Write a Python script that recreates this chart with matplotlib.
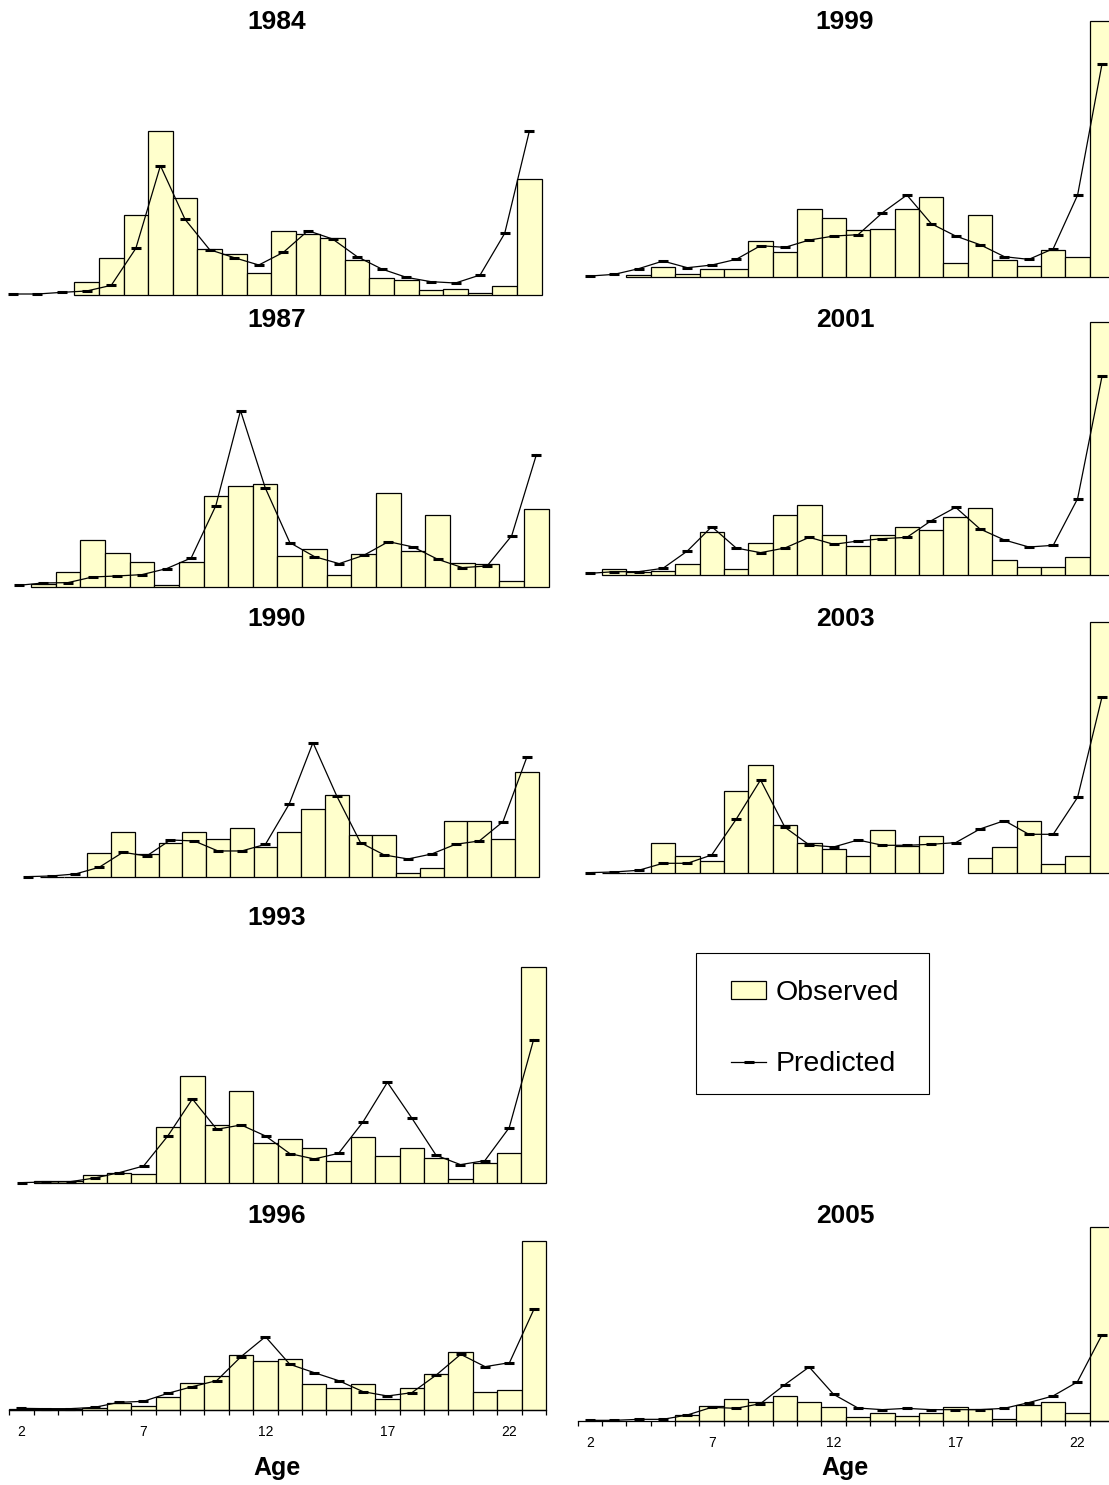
import numpy as np
import matplotlib.pyplot as plt
from matplotlib.patches import Rectangle

plt.rcParams['font.family'] = ['Liberation Sans', 'DejaVu Sans']

# ages 2..23 (23 = plus group)
ages = np.arange(2, 24)
tick_ages = [2, 7, 12, 17, 22]

# observed / predicted proportions at age
obs_1984 = [0, 0, 0, 3.8, 11.0, 24.1, 49.3, 29.0, 13.9, 12.2, 6.7, 19.2, 18.3, 17.0, 10.5, 5.2, 4.5, 1.4, 1.9, 0.5, 2.7, 34.8]
pred_1984 = [0.3, 0.3, 0.8, 1.2, 2.9, 14.0, 38.8, 22.7, 13.6, 11.2, 9.0, 12.8, 19.3, 16.8, 11.5, 7.8, 5.3, 4.0, 3.6, 6.0, 18.5, 49.1]

obs_1987 = [0, 1.0, 4.5, 14.1, 10.2, 7.7, 0.7, 7.7, 27.5, 30.5, 31.0, 9.5, 11.6, 3.6, 9.9, 28.4, 11.0, 21.8, 7.4, 6.9, 2.0, 23.4]
pred_1987 = [0.6, 1.3, 1.4, 3.1, 3.4, 3.8, 5.6, 8.8, 24.5, 53.0, 29.9, 13.4, 9.2, 7.1, 9.6, 13.7, 12.1, 8.4, 5.9, 6.4, 15.5, 39.8]

obs_1990 = [0, 0.2, 0.2, 7.2, 13.5, 6.9, 10.2, 13.5, 11.4, 14.7, 9.0, 13.5, 20.5, 24.7, 12.6, 12.6, 1.4, 2.8, 16.8, 16.8, 11.4, 31.6]
pred_1990 = [0.2, 0.4, 1.0, 3.0, 7.5, 6.4, 11.2, 10.9, 7.9, 7.9, 9.9, 22.0, 40.4, 24.4, 10.4, 6.7, 5.5, 7.0, 9.9, 10.9, 16.7, 36.0]

obs_1993 = [0, 0.7, 0.7, 2.5, 3.0, 2.9, 16.9, 32.3, 17.4, 27.7, 12.0, 13.2, 10.7, 6.6, 14.0, 8.2, 10.7, 7.5, 1.2, 6.2, 9.0, 64.8]
pred_1993 = [0.2, 0.4, 0.5, 1.6, 3.2, 5.2, 14.3, 25.3, 16.2, 17.5, 14.2, 8.9, 7.3, 9.0, 18.4, 30.3, 19.6, 8.4, 5.6, 6.8, 16.7, 43.1]

obs_1996 = [0.3, 0.2, 0.2, 0.6, 2.0, 1.2, 4.0, 8.2, 10.2, 16.5, 14.8, 15.2, 7.8, 6.5, 7.8, 3.2, 6.5, 10.7, 17.3, 5.3, 6.1, 50.6]
pred_1996 = [0.5, 0.4, 0.4, 0.8, 2.3, 2.6, 5.0, 7.0, 8.8, 16.0, 22.0, 13.7, 11.2, 8.8, 5.5, 4.2, 5.2, 10.5, 16.7, 13.0, 14.2, 30.2]

obs_1999 = [0, 0, 0.4, 2.8, 0.9, 2.4, 2.4, 10.8, 7.5, 20.2, 17.7, 14.0, 14.4, 20.2, 23.9, 4.1, 18.5, 4.9, 3.3, 7.9, 5.8, 76.8]
pred_1999 = [0.2, 0.7, 2.4, 4.7, 2.7, 3.5, 5.2, 9.3, 8.8, 11.0, 12.2, 12.6, 19.2, 24.5, 15.9, 12.2, 9.6, 6.0, 5.2, 8.4, 24.5, 63.8]

obs_2001 = [0, 1.7, 0.8, 1.2, 3.3, 12.8, 1.7, 9.5, 18.1, 21.0, 12.0, 8.7, 12.0, 14.4, 13.6, 17.3, 20.2, 4.6, 2.5, 2.5, 5.4, 75.9]
pred_2001 = [0.5, 1.0, 1.0, 2.0, 7.2, 14.5, 8.1, 6.7, 8.1, 11.3, 9.2, 10.2, 10.9, 11.3, 16.3, 20.3, 13.8, 10.5, 8.4, 8.9, 22.9, 59.6]

# age 17 missing in 2003
obs_2003 = [0, 0.2, 0.2, 9.0, 5.3, 3.7, 24.7, 32.6, 14.4, 9.0, 7.4, 5.3, 13.1, 8.3, 11.1, np.nan, 4.5, 7.8, 15.6, 2.8, 5.3, 75.4]
pred_2003 = [0.2, 0.4, 0.9, 3.0, 3.0, 5.5, 16.2, 28.0, 13.8, 8.5, 7.9, 10.0, 8.4, 8.4, 8.7, 9.2, 13.3, 15.8, 11.7, 11.7, 22.8, 52.9]

obs_2005 = [0, 0, 0, 0, 1.7, 4.5, 6.5, 5.8, 7.4, 5.8, 4.1, 1.1, 2.4, 1.6, 2.4, 4.1, 3.6, 0.7, 4.9, 5.8, 2.4, 58.1]
pred_2005 = [0.2, 0.2, 0.5, 0.5, 1.8, 4.1, 3.8, 5.2, 10.9, 16.2, 8.0, 3.9, 3.4, 3.8, 3.4, 3.4, 3.4, 3.8, 5.5, 7.5, 11.7, 25.7]

observed = {'1984': obs_1984, '1987': obs_1987, '1990': obs_1990, '1993': obs_1993,
            '1996': obs_1996, '1999': obs_1999, '2001': obs_2001, '2003': obs_2003,
            '2005': obs_2005}
predicted = {'1984': pred_1984, '1987': pred_1987, '1990': pred_1990, '1993': pred_1993,
             '1996': pred_1996, '1999': pred_1999, '2001': pred_2001, '2003': pred_2003,
             '2005': pred_2005}

W, H = 1109, 1485
fig = plt.figure(figsize=(W / 100, H / 100), dpi=100)

# pixel layout: x of age 2 centre, x of age 23 centre, baseline y, title x, title y
layout = {
    '1984': (12.9, 529.3, 295.0, 277, 22),
    '1987': (18.6, 536.4, 587.3, 277, 320),
    '1990': (27.9, 526.8, 877.3, 277, 619),
    '1993': (21.8, 533.6, 1183.3, 277, 918),
    '1996': (21.4, 533.9, 1410.0, 277, 1216),
    '1999': (589.8, 1102.0, 276.7, 845, 22),
    '2001': (589.8, 1102.0, 575.0, 845, 320),
    '2003': (589.8, 1102.0, 873.3, 845, 619),
    '2005': (589.8, 1101.7, 1421.0, 845, 1216),
}
px_per_unit = 10 / 3
axes_h = 272

for yr, (x2, x23, base, tx, ty) in layout.items():
    step = (x23 - x2) / 21
    left = x2 - step / 2
    ax = fig.add_axes([left / W, 1 - base / H, step * 22 / W, axes_h / H])
    ax.patch.set_visible(False)
    ax.set_xlim(1.5, 23.5)
    ax.set_ylim(0, axes_h / px_per_unit)

    obs = np.array(observed[yr], dtype=float)
    bars = ax.bar(ages, np.where(obs > 0, obs, np.nan), width=1.0,
                  color='#FFFFCC', edgecolor='black', linewidth=0.9, clip_on=False)
    line, = ax.plot(ages, predicted[yr], color='black', lw=0.9,
                    marker='_', ms=7, mew=2.2, clip_on=False)

    for s in ax.spines.values():
        s.set_visible(False)
    ax.set_yticks([])
    if yr in ('1996', '2005'):
        ax.spines['bottom'].set_visible(True)
        ax.spines['bottom'].set_linewidth(0.9)
        ax.set_xticks(tick_ages)
        ax.set_xticklabels([str(a) for a in tick_ages])
        ax.set_xticks(np.arange(1.5, 24.0, 1.0), minor=True)
        ax.tick_params(axis='x', which='major', length=0, labelsize=10, pad=11)
        ax.tick_params(axis='x', which='minor', length=3.6, width=0.9, direction='out')
        fig.text(tx / W, 1 - 1468 / H, 'Age', ha='center', va='center',
                 fontsize=18, fontweight='bold')
    else:
        ax.set_xticks([])

    fig.text(tx / W, 1 - ty / H, yr, ha='center', va='center',
             fontsize=19, fontweight='bold')

# legend box in the empty slot of the right column
fig.add_artist(Rectangle((695.7 / W, 1 - 1094 / H), 233.6 / W, 140.7 / H,
                         transform=fig.transFigure, fill=False,
                         edgecolor='black', linewidth=0.8))
fig.legend([bars, line], ['Observed', 'Predicted'], loc='center',
           bbox_to_anchor=(815 / W, 1 - 1028.5 / H), frameon=False,
           fontsize=20.5, handlelength=1.25, handleheight=0.58,
           handletextpad=0.33, labelspacing=1.6, numpoints=1)

fig.savefig('out.png', dpi=100)
